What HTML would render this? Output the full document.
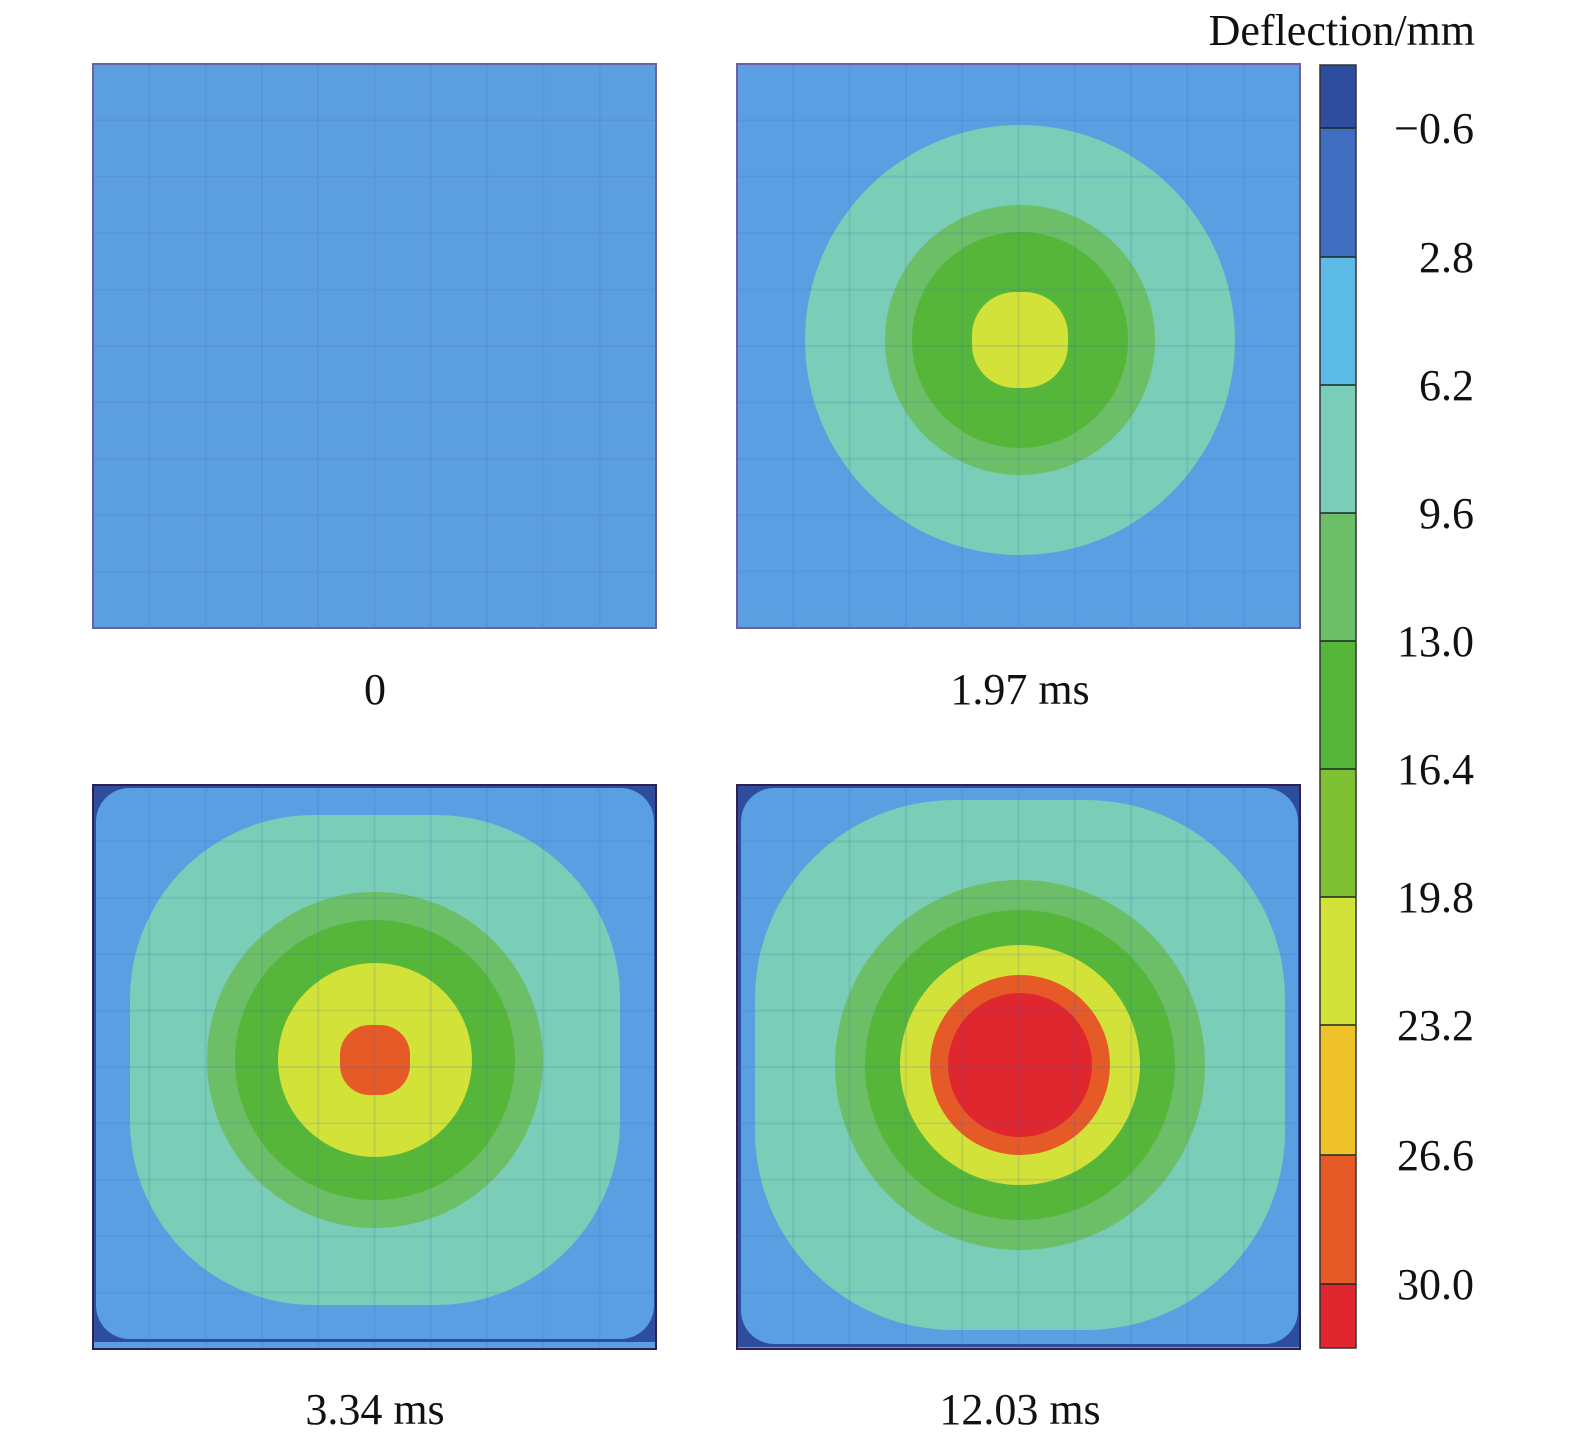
<!DOCTYPE html>
<html><head><meta charset="utf-8"><style>
html,body{margin:0;padding:0;background:#fff;}
svg{display:block;font-family:"Liberation Serif",serif;}
</style></head><body>
<svg id="c" width="1575" height="1448" viewBox="0 0 1575 1448"></svg>
<script>
const levelLabels=["−0.6","2.8","6.2","9.6","13.0","16.4","19.8","23.2","26.6","30.0"];
const levelColors=["#2e4d9e","#3f6dc0","#5cbbe6","#7acdb6","#6cbf66","#55b63a","#7ec234","#d2e238","#f0c22a","#e65a28","#e0262e"];
const panelTitles=["0","1.97 ms","3.34 ms","12.03 ms"];
// per panel contour levels: [colorIndex, half-size(px), corner-roundness 0..1]
const panel0=[[1,282,0]];
const panel1=[[2,282,0],[3,215,1],[4,135,1],[5,108,1],[7,48,0.9]];
const panel2=[[0,282,0],[2,279,0.12],[3,245,0.75],[4,168,1],[5,140,1],[7,97,1],[9,35,0.85]];
const panel3=[[0,282,0],[2,279,0.12],[3,265,0.75],[4,185,1],[5,155,1],[7,120,1],[9,90,1],[10,72,1]];
const panels=[panel0,panel1,panel2,panel3];
const boxes=[[93,64],[737,64],[93,785],[737,785]];
const centers=[[282,282],[283,276],[282,275],[283,280]];
const svg=document.getElementById('c');
const NS="http://www.w3.org/2000/svg";
function mk(t,a){const e=document.createElementNS(NS,t);for(const k in a)e.setAttribute(k,a[k]);svg.appendChild(e);return e;}
panels.forEach((p,i)=>{
  const [bx,by]=boxes[i];const [cx,cy]=centers[i];
  const bg=mk('rect',{x:bx,y:by,width:563,height:564,fill:'#5b9fe1'});
  
  
  p.forEach((lv,j)=>{
    const [ci,h,r]=lv;
    const col=(i===0)?'#5b9fe1':(ci===2?'#5a9fe2':levelColors[ci]);
    let x0=bx+cx-h,y0=by+cy-h,x1=bx+cx+h,y1=by+cy+h;
    if(h>=270){x0=Math.max(x0,bx+282-h);x1=Math.min(x1,bx+282+h);y0=Math.max(y0,by+282-h);y1=Math.min(y1,by+282+h);}
    const e=mk('rect',{x:x0,y:y0,width:x1-x0,height:y1-y0,rx:h*r,ry:h*r,fill:col});
    
    
  });
  for(let g=0;g<=10;g++){
    mk('line',{x1:bx+g*56.3,y1:by,x2:bx+g*56.3,y2:by+564,stroke:'#3a6cc0','stroke-opacity':0.15,'stroke-width':2});
    mk('line',{x1:bx,y1:by+g*56.4,x2:bx+563,y2:by+g*56.4,stroke:'#3a6cc0','stroke-opacity':0.15,'stroke-width':2});
  }
  const fr=mk('rect',{x:bx,y:by,width:563,height:564,fill:'none',stroke:i<2?'#7060a0':'#302050','stroke-width':2});
  
  
  const t=mk('text',{x:bx+(i%2===0?282:283),y:i<2?704:1424,'font-size':44,'text-anchor':'middle',fill:'#111'});
  t.textContent=panelTitles[i];
  
  
});
const cbTop=65,cbBot=1348,cbX=1320,cbW=36;
const bandEdges=[65,128,257,385,513,641,769,897,1025,1155,1284,1348];
levelColors.forEach((c,k)=>{
  const r=mk('rect',{x:cbX,y:bandEdges[k],width:cbW,height:bandEdges[k+1]-bandEdges[k],fill:c});
  
  
  if(k>0)mk('line',{x1:cbX,y1:bandEdges[k],x2:cbX+cbW,y2:bandEdges[k],stroke:'#1a2a20','stroke-width':1.5});
});
const cbf=mk('rect',{x:cbX,y:cbTop,width:cbW,height:cbBot-cbTop,fill:'none',stroke:'#333','stroke-width':1.5});


levelLabels.forEach((l,k)=>{
  const t=mk('text',{x:1474,y:bandEdges[k+1]+15,'font-size':44,'text-anchor':'end',fill:'#111'});
  t.textContent=l;
  
  
});
const ct=mk('text',{x:1475,y:45,'font-size':44,'text-anchor':'end',fill:'#111'});
ct.textContent='Deflection/mm';


</script>
</body></html>
